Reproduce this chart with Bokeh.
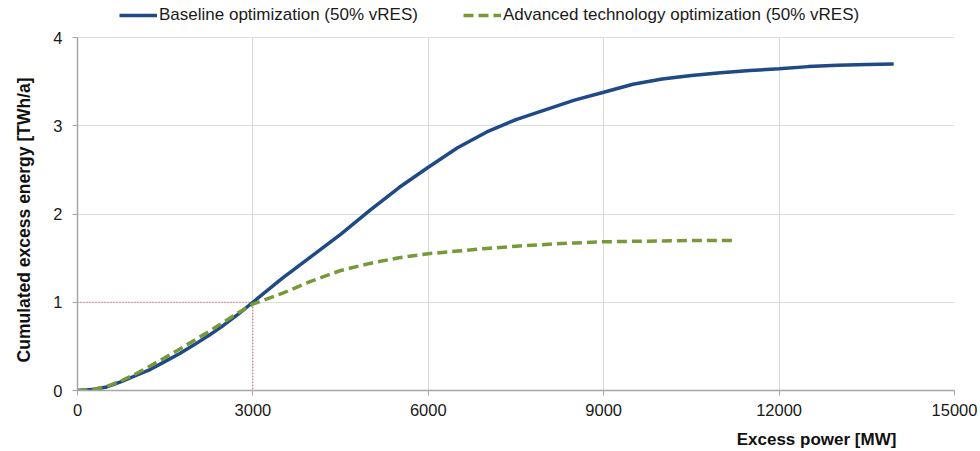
import math
from bokeh.plotting import figure
from bokeh.models import Range1d, FixedTicker, Legend, LegendItem, LinearAxis
from bokeh.embed import file_html
from bokeh.resources import INLINE

# Data
power_base = [0, 250, 500, 750, 1000, 1250, 1500, 1750, 2000, 2250, 2500, 2750, 3000,
              3500, 4000, 4500, 5000, 5500, 6000, 6500, 7000, 7500, 8000, 8500, 9000,
              9500, 10000, 10500, 11000, 11500, 12000, 12500, 13000, 13500, 13960]
energy_base = [0, 0.01, 0.04, 0.10, 0.17, 0.24, 0.33, 0.42, 0.52, 0.625, 0.74, 0.865, 1.0,
               1.27, 1.52, 1.77, 2.04, 2.30, 2.53, 2.75, 2.93, 3.07, 3.18, 3.29, 3.38,
               3.47, 3.53, 3.57, 3.60, 3.625, 3.645, 3.67, 3.685, 3.695, 3.70]

power_adv = [0, 250, 500, 750, 1000, 1250, 1500, 1750, 2000, 2250, 2500, 2750, 3000,
             3500, 4000, 4500, 5000, 5500, 6000, 6500, 7000, 7500, 8000, 8500, 9000,
             9500, 10000, 10500, 11000, 11250]
energy_adv = [0, 0.01, 0.045, 0.11, 0.19, 0.28, 0.375, 0.47, 0.57, 0.67, 0.775, 0.88, 0.98,
              1.10, 1.24, 1.36, 1.44, 1.505, 1.55, 1.58, 1.61, 1.635, 1.655, 1.672, 1.685,
              1.69, 1.695, 1.70, 1.70, 1.70]

ref_power = [0, 3000, 3000]
ref_energy = [1, 1, 0]

x_ticks = [0, 3000, 6000, 9000, 12000, 15000]
y_ticks = [0, 1, 2, 3, 4]

series_names = ["Baseline optimization (50% vRES)", "Advanced technology optimization (50% vRES)"]
x_title = "Excess power [MW]"
y_title = "Cumulated excess energy [TWh/a]"

# layout constants
X_MAX, Y_MAX = 15000, 4
FRAME_H, PLOT_H = 390, 353            # frame extends up to the canvas top to host the legend
Y_TOP = Y_MAX * FRAME_H / PLOT_H
X_LABEL_AT = 12640                    # where the x title sits (data units)
Y_LABEL_AT = 3.547                    # anchor (upper end) of the rotated y title (data units)

FONT = "Liberation Sans"
BLUE = "#1F4A85"
GREEN = "#77993A"
FS = "16.5px"
AXIS_GREY = "#A6A6A6"

p = figure(width=980, height=451, output_backend="svg", toolbar_location=None,
           x_range=Range1d(0, X_MAX), y_range=Range1d(0, Y_TOP),
           min_border_left=77, min_border_right=26, min_border_top=0, min_border_bottom=61)
p.outline_line_color = None
p.background_fill_color = "white"
p.border_fill_color = "white"

# grids
p.xgrid.ticker = FixedTicker(ticks=x_ticks)
p.ygrid.ticker = FixedTicker(ticks=y_ticks)
p.xgrid.grid_line_color = "#DCDCDC"
p.ygrid.grid_line_color = "#DCDCDC"
if "cross_bounds" in p.xgrid[0].properties():
    p.xgrid[0].cross_bounds = (0, Y_MAX)
else:
    p.xgrid.grid_line_color = None
    p.segment(x0=x_ticks, y0=[0] * len(x_ticks), x1=x_ticks, y1=[Y_MAX] * len(x_ticks),
              line_color="#DCDCDC", line_width=1)

# axes
p.xaxis.ticker = FixedTicker(ticks=x_ticks)
p.yaxis.ticker = FixedTicker(ticks=y_ticks)
p.yaxis.bounds = (0, Y_MAX)
for ax in (p.xaxis[0], p.yaxis[0]):
    ax.axis_line_color = AXIS_GREY
    ax.axis_line_width = 1.5
    ax.major_tick_line_color = AXIS_GREY
    ax.major_tick_out = 5
    ax.major_tick_in = 0
    ax.minor_tick_line_color = None
    ax.major_label_text_font = FONT
    ax.major_label_text_font_size = FS
    ax.major_label_text_color = "#1a1a1a"
p.yaxis.major_label_standoff = 10
p.xaxis.major_label_standoff = 8

# axis titles, drawn as single tick labels of extra axes so they sit where the reference has them
xlab = LinearAxis(ticker=FixedTicker(ticks=[X_LABEL_AT]),
                  major_label_overrides={X_LABEL_AT: x_title},
                  axis_line_color=None, major_tick_line_color=None, minor_tick_line_color=None,
                  major_tick_out=0, major_label_standoff=11,
                  major_label_text_font=FONT, major_label_text_font_size="17px",
                  major_label_text_font_style="bold", major_label_text_color="#111111")
p.add_layout(xlab, "below")

ylab = LinearAxis(ticker=FixedTicker(ticks=[Y_LABEL_AT]),
                  major_label_overrides={Y_LABEL_AT: y_title},
                  major_label_orientation=math.pi / 2,
                  axis_line_color=None, major_tick_line_color=None, minor_tick_line_color=None,
                  major_tick_out=0, major_label_standoff=26,
                  major_label_text_font=FONT, major_label_text_font_size="17.5px",
                  major_label_text_line_height=1.0,
                  major_label_text_font_style="bold", major_label_text_color="#111111")
p.add_layout(ylab, "left")

# reference lines
p.line(ref_power, ref_energy, line_color="#E8364A", line_width=1, line_dash="1 2")

r1 = p.line(power_base, energy_base, line_color=BLUE, line_width=3.5)
r2 = p.line(power_adv, energy_adv, line_color=GREEN, line_width=3.5, line_dash="10 5")

legend = Legend(items=[LegendItem(label=series_names[0], renderers=[r1]),
                       LegendItem(label=series_names[1], renderers=[r2])],
                orientation="horizontal", location=(42, 365),
                label_text_font=FONT, label_text_font_size="17px",
                label_text_color="#1a1a1a",
                glyph_width=38, label_standoff=2, spacing=45, padding=0, margin=0,
                border_line_alpha=0, background_fill_alpha=0)
p.add_layout(legend, "center")

open("out.html", "w").write(file_html(p, INLINE))
